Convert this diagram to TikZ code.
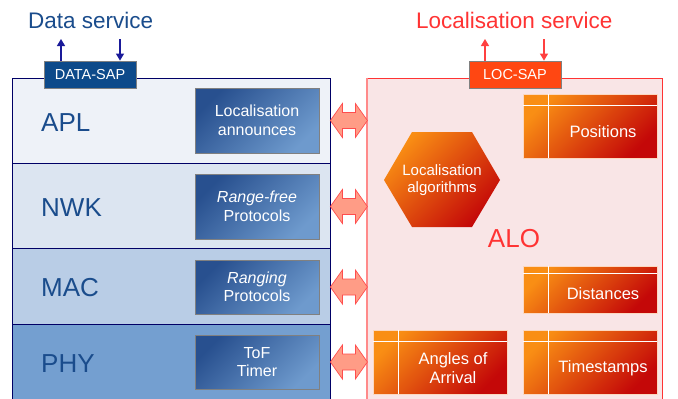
\documentclass[tikz,border=0pt]{standalone}
\usepackage{fontspec}
\setmainfont{Liberation Sans}
\usetikzlibrary{calc,arrows.meta}
\definecolor{navy}{HTML}{000066}
\definecolor{aplc}{HTML}{EEF2F8}
\definecolor{nwkc}{HTML}{DCE5F1}
\definecolor{macc}{HTML}{B9CDE6}
\definecolor{phyc}{HTML}{749FD0}
\definecolor{lbl}{HTML}{1A4C8C}
\definecolor{bdark}{HTML}{28508F}
\definecolor{blight}{HTML}{6E9ACD}
\definecolor{odark}{HTML}{C40808}
\definecolor{olight}{HTML}{F98E14}
\definecolor{pinkbg}{HTML}{F9E5E6}
\definecolor{redc}{HTML}{FF3333}
\definecolor{pinkedge}{HTML}{FF8A8A}
\definecolor{sapblue}{HTML}{0D4A8A}
\definecolor{saporange}{HTML}{FF4712}
\definecolor{arrfill}{HTML}{FF9C86}
\definecolor{arrdraw}{HTML}{FF4D4D}
\definecolor{blarr}{HTML}{1A1A99}
\definecolor{sapred}{HTML}{FF4040}
\definecolor{obord}{HTML}{FCD8C0}
\newcommand\dblarrow[1]{\draw[dblarr] (#1) -- ++(12,-17) -- ++(0,9) -- ++(13,0) -- ++(0,-9) -- ++(12,17) -- ++(-12,17) -- ++(0,-9) -- ++(-13,0) -- ++(0,9) -- cycle;}
\newcommand\oboxlines[2]{\draw[white, line width=1pt] ([xshift=26pt]#1.north west) -- ([xshift=26pt]#1.south west); \draw[white, line width=1pt] ([yshift=-#2]#1.north west) -- ([yshift=-#2]#1.north east);}
\begin{document}
\begin{tikzpicture}[x=1pt,y=-1pt,
 layer/.style={draw=navy, line width=0.8pt, inner sep=0, minimum width=318pt},
 lyrtxt/.style={anchor=base west, text=lbl, font=\fontsize{26}{28}\selectfont, inner sep=0},
 bbox/.style={draw=gray, line width=0.8pt, inner sep=0, minimum width=124pt, top color=bdark, bottom color=blight, shading angle=45, text=white, align=center, font=\fontsize{16}{18.5}\selectfont},
 obox/.style={draw=obord, line width=0.8pt, inner sep=0, minimum width=134pt, top color=olight, bottom color=odark, shading angle=45},
 otxt/.style={text=white, align=center, inner sep=0, font=\fontsize{16.5}{19}\selectfont},
 sapbox/.style={draw=gray, line width=0.8pt, inner sep=0, minimum width=92pt, minimum height=27pt, text=white, font=\fontsize{14.5}{16}\selectfont},
 dblarr/.style={fill=arrfill, draw=arrdraw, line width=0.7pt, line join=miter},
 sarr/.style={line width=1.2pt, -{Triangle[length=7pt,width=8pt]}},
 svc/.style={anchor=base west, inner sep=0, font=\fontsize{22.5}{25}\selectfont}]
\useasboundingbox (0,0) rectangle (678,399);
\fill[white] (0,0) rectangle (678,399);
% left stack
\node[layer, fill=aplc, minimum height=85pt] (apl) at (171,120.5) {};
\node[layer, fill=nwkc, minimum height=85pt] (nwk) at (171,205.5) {};
\node[layer, fill=macc, minimum height=76pt] (mac) at (171,286) {};
\node[layer, fill=phyc, minimum height=81pt] (phy) at (171,364.5) {};
\node[lyrtxt] (aplt) at (41,131) {APL};
\node[lyrtxt] (nwkt) at (41,216) {NWK};
\node[lyrtxt] (mact) at (41,296) {MAC};
\node[lyrtxt] (phyt) at (41,372) {PHY};
\node[bbox, minimum height=65pt] (abox) at (257,120.5) {Localisation\\announces};
\node[bbox, minimum height=65pt] (nbox) at (257,206.5) {\itshape Range-free\\Protocols};
\node[bbox, minimum height=54pt] (mbox) at (257,287) {\itshape Ranging\\Protocols};
\node[bbox, minimum height=54pt] (pbox) at (257,362) {ToF\\Timer};
% right panel
\node[draw=redc, line width=0.8pt, fill=pinkbg, inner sep=0, minimum width=295pt, minimum height=327pt] (alo) at (514.5,241.5) {};
\draw[pinkedge, line width=2pt] (alo.north west) -- (alo.south west);
\node[text=redc, anchor=base, inner sep=0, font=\fontsize{26}{28}\selectfont] (alot) at (514,247) {ALO};
\path[top color=olight, bottom color=odark, shading angle=45] (384,180) -- (412,132) -- (472,132) -- (500,180) -- (472,227) -- (412,227) -- cycle;
\node[otxt, font=\fontsize{15}{17}\selectfont] (algo) at (442,180) {Localisation\\algorithms};
\node[obox, minimum height=64pt] (pos) at (590,126) {};
\oboxlines{pos}{12pt}
\node[otxt] (post) at ([xshift=13pt,yshift=-6pt]pos.center) {Positions};
\node[obox, minimum height=47pt] (dist) at (590,289.5) {};
\oboxlines{dist}{8pt}
\node[otxt] (distt) at ([xshift=13pt,yshift=-4pt]dist.center) {Distances};
\node[obox, minimum height=64pt] (ts) at (590,362) {};
\oboxlines{ts}{12pt}
\node[otxt] (tst) at ([xshift=13pt,yshift=-6pt]ts.center) {Timestamps};
\node[obox, minimum height=64pt] (aoa) at (440,362) {};
\oboxlines{aoa}{12pt}
\node[otxt] (aoat) at ([xshift=13pt,yshift=-6pt]aoa.center) {Angles of\\Arrival};
% double arrows
\dblarrow{abox.east -| apl.east}
\dblarrow{nbox.east -| nwk.east}
\dblarrow{mbox.east -| mac.east}
\dblarrow{pbox.east -| phy.east}
% SAPs
\node[sapbox, fill=sapblue] (dsap) at (90,74.5) {DATA-SAP};
\node[sapbox, fill=saporange] (lsap) at (515,74.5) {LOC-SAP};
\coordinate (dup) at (61,39);
\coordinate (ddn) at (120,39);
\coordinate (lup) at (485,39);
\coordinate (ldn) at (544,39);
\draw[sarr, blarr] (dsap.north -| dup) -- (dup);
\draw[sarr, blarr] (ddn) -- (dsap.north -| ddn);
\draw[sarr, sapred] (lsap.north -| lup) -- (lup);
\draw[sarr, sapred] (ldn) -- (lsap.north -| ldn);
\node[svc, text=lbl] (dsvc) at (28,28) {Data service};
\node[svc, text=redc] (lsvc) at (416,28) {Localisation service};
\end{tikzpicture}
\end{document}
